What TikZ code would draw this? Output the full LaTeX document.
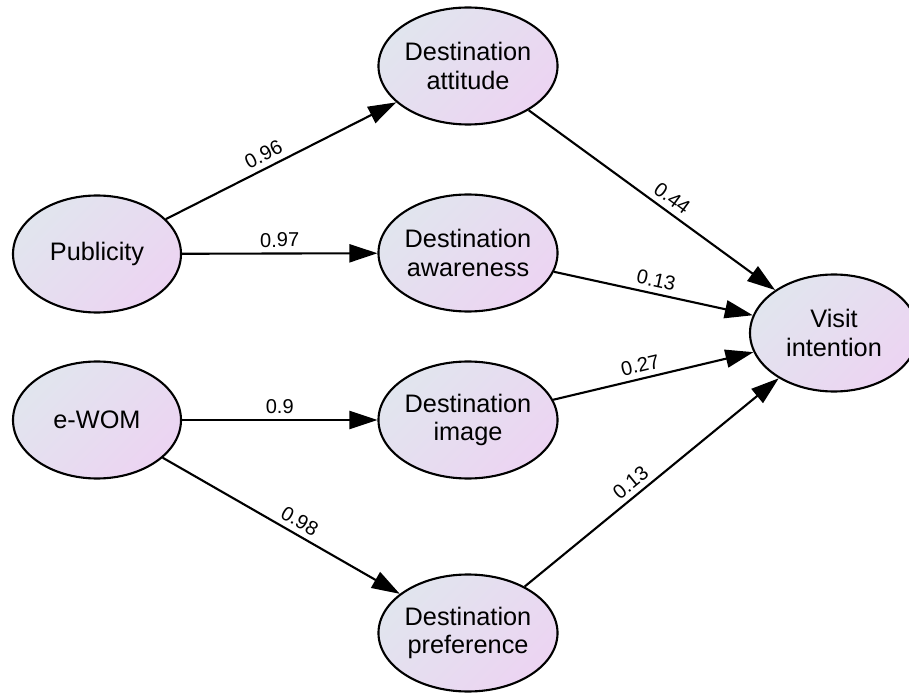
\documentclass[tikz,border=0pt]{standalone}
\usepackage{fontspec}
\setmainfont{Liberation Sans}
\usepackage{tikz}
\usetikzlibrary{arrows.meta,shapes.geometric}
\definecolor{fillleft}{HTML}{E1E5EE}
\definecolor{fillright}{HTML}{ECD4F2}

\begin{document}
\begin{tikzpicture}[
    construct/.style={ellipse, draw, line width=1.2pt, minimum width=3.36cm, minimum height=2.34cm,
      inner sep=0pt, align=center, font=\fontsize{14.4}{16.4}\selectfont,
      left color=fillleft, right color=fillright, shading angle=45},
    path/.style={-{Triangle[length=0.56cm,width=0.36cm]}, line width=1.2pt},
    coef/.style={font=\fontsize{11.4}{13}\selectfont, sloped, above, inner sep=3pt}]
  \useasboundingbox (0,0) rectangle (18.18,-13.86);

  \draw (1.94,-5.08) node[construct] (publicity) {Publicity};
  \draw (1.94,-8.40) node[construct] (ewom) {e-WOM};
  \draw (9.36,-1.32) node[construct] (attitude) {Destination\\attitude};
  \draw (9.36,-5.06) node[construct] (awareness) {Destination\\awareness};
  \draw (9.36,-8.40) node[construct] (image) {Destination\\image};
  \draw (9.36,-12.66) node[construct] (preference) {Destination\\preference};
  \draw (16.68,-6.66) node[construct] (visit) {Visit\\intention};

  \path[path] (publicity) edge node[coef, pos=0.45] {0.96} (attitude);
  \path[path] (publicity) edge node[coef] {0.97} (awareness);
  \path[path] (ewom) edge node[coef] {0.9} (image);
  \path[path] (ewom) edge node[coef, pos=0.55] {0.98} (preference);
  \path[path] (attitude) edge node[coef, pos=0.55] {0.44} (visit);
  \path[path] (awareness) edge node[coef, pos=0.5] {0.13} (visit);
  \path[path] (image) edge node[coef, pos=0.45] {0.27} (visit);
  \path[path] (preference) edge node[coef, pos=0.45] {0.13} (visit);

\end{tikzpicture}
\end{document}
